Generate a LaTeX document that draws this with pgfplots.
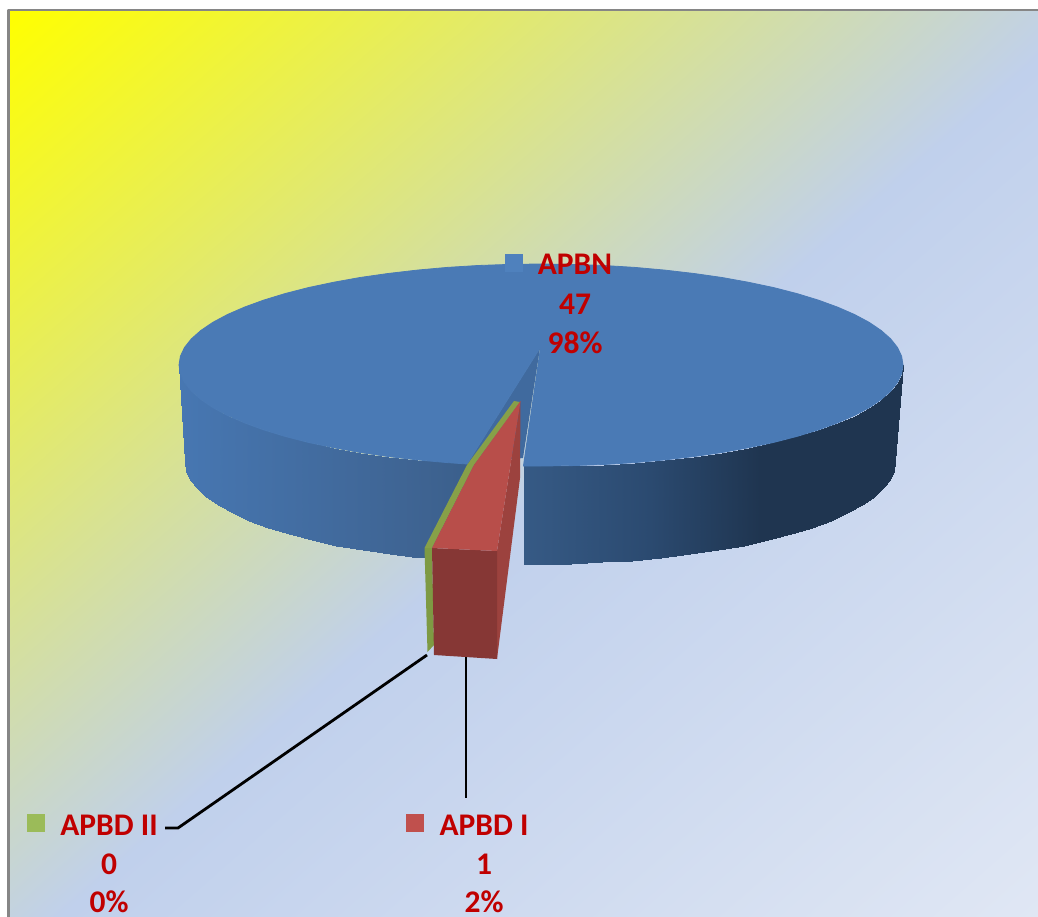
\documentclass[border=0pt]{standalone}
\usepackage{pgfplots}
\pgfplotsset{compat=1.18}
\usepackage{fontspec}
\setmainfont{Carlito}
\definecolor{lab}{RGB}{192,0,0}
\definecolor{topblue}{RGB}{74,122,181}
\definecolor{wedge}{RGB}{64,106,158}
\definecolor{mblue}{RGB}{79,129,189}
\definecolor{mred}{RGB}{192,80,77}
\definecolor{mgreen}{RGB}{155,187,89}
\definecolor{redtop}{RGB}{184,78,74}
\definecolor{redside}{RGB}{156,66,62}
\definecolor{redfront}{RGB}{134,55,53}
\definecolor{greentop}{RGB}{135,160,72}
\definecolor{greenfront}{RGB}{126,154,67}
\definecolor{frame}{RGB}{134,134,134}
\pgfplotsset{
  colormap={bgmap}{rgb255(0)=(255,255,0); rgb255(525)=(192,208,236); rgb255(1000)=(224,231,244)},
  colormap={wallmap}{rgb255(179)=(71,119,178); rgb255(425)=(62,99,145); rgb255(524)=(54,90,133); rgb255(650)=(43,74,112); rgb255(760)=(31,53,80); rgb255(903)=(31,53,80)}
}
\tikzset{lb/.style={font=\fontsize{31.5}{32}\selectfont\bfseries, text=lab, anchor=base, inner sep=0pt}}
\begin{document}
\begin{tikzpicture}
\begin{axis}[
  scale only axis, width=1038pt, height=917pt,
  xmin=0, xmax=1038, ymin=0, ymax=917, y dir=reverse,
  hide axis, no markers, point meta min=0, point meta max=1,
  every axis plot/.append style={line join=round},
]
\path (axis cs:0,0) rectangle (axis cs:1038,917);
% background gradient
\addplot[patch, shader=interp, colormap name=bgmap, point meta=explicit] coordinates {
 (10,11) [0] (1038,11) [0.5] (1038,60) [0.525]
 (10,11) [0] (1038,60) [0.525] (60,917) [0.525]
 (10,11) [0] (60,917) [0.525] (10,917) [0.5]
 (1038,60) [0.525] (1038,917) [1] (60,917) [0.525]
};
% frame
\addplot[draw=frame, line width=2.6pt, line cap=butt] coordinates {(8.7,917) (8.7,10) (1038,10)};
% side wall, left part
\addplot[patch, patch type=rectangle, shader=interp, colormap name=wallmap, point meta={(x-179)/724}] coordinates {
 (179,365) (180.4,373.8) (186.4,470.9) (185,462)
 (180.4,373.8) (184.5,382.5) (190.4,479.7) (186.4,470.9)
 (184.5,382.5) (191.3,391.1) (197.1,488.4) (190.4,479.7)
 (191.3,391.1) (200.8,399.5) (206.4,496.9) (197.1,488.4)
 (200.8,399.5) (212.9,407.7) (218.3,505.1) (206.4,496.9)
 (212.9,407.7) (227.5,415.5) (232.6,513) (218.3,505.1)
 (227.5,415.5) (244.5,422.9) (249.2,520.5) (232.6,513)
 (244.5,422.9) (263.7,429.9) (268.1,527.6) (249.2,520.5)
 (263.7,429.9) (285,436.4) (289,534.1) (268.1,527.6)
 (285,436.4) (308.3,442.4) (311.8,540.1) (289,534.1)
 (308.3,442.4) (333.4,447.7) (336.4,545.6) (311.8,540.1)
 (333.4,447.7) (360,452.5) (362.5,550.3) (336.4,545.6)
 (360,452.5) (388,456.5) (390,554.4) (362.5,550.3)
 (388,456.5) (417.2,459.9) (418.6,557.9) (390,554.4)
 (417.2,459.9) (490,462) (425,557) (418.6,557.9)
};
% side wall, right part
\addplot[patch, patch type=rectangle, shader=interp, colormap name=wallmap, point meta={(x-179)/724}] coordinates {
 (524,466) (572.6,465.6) (571,563.6) (524,564)
 (572.6,465.6) (603.9,464.5) (601.6,562.4) (571,563.6)
 (603.9,464.5) (634.7,462.6) (631.9,560.5) (601.6,562.4)
 (634.7,462.6) (664.8,459.9) (661.4,557.9) (631.9,560.5)
 (664.8,459.9) (694,456.5) (690,554.4) (661.4,557.9)
 (694,456.5) (722,452.5) (717.5,550.3) (690,554.4)
 (722,452.5) (748.6,447.7) (743.6,545.6) (717.5,550.3)
 (748.6,447.7) (773.7,442.4) (768.2,540.1) (743.6,545.6)
 (773.7,442.4) (797,436.4) (791,534.1) (768.2,540.1)
 (797,436.4) (818.3,429.9) (811.9,527.6) (791,534.1)
 (818.3,429.9) (837.5,422.9) (830.8,520.5) (811.9,527.6)
 (837.5,422.9) (854.5,415.5) (847.4,513) (830.8,520.5)
 (854.5,415.5) (869.1,407.7) (861.7,505.1) (847.4,513)
 (869.1,407.7) (881.2,399.5) (873.6,496.9) (861.7,505.1)
 (881.2,399.5) (890.7,391.1) (882.9,488.4) (873.6,496.9)
 (890.7,391.1) (897.5,382.5) (889.6,479.7) (882.9,488.4)
 (897.5,382.5) (901.6,373.8) (893.6,470.9) (889.6,479.7)
 (901.6,373.8) (903,365) (895,462) (893.6,470.9)
};
% inner wedge wall
\addplot[fill=wedge, draw=none] coordinates {(540,348) (523,458) (467,464)};
% top face with the notch
\addplot[fill=topblue, draw=topblue, line width=0.8pt] coordinates {
 (523,466) (541,466) (572.6,465.6) (603.9,464.5) (634.7,462.6) (664.8,459.9) (694,456.5)
 (722,452.5) (748.6,447.7) (773.7,442.4) (797,436.4) (818.3,429.9) (837.5,422.9)
 (854.5,415.5) (869.1,407.7) (881.2,399.5) (890.7,391.1) (897.5,382.5) (901.6,373.8)
 (903,365) (901.6,356.2) (897.5,347.5) (890.7,338.9) (881.2,330.5) (869.1,322.3)
 (854.5,314.5) (837.5,307.1) (818.3,300.1) (797,293.6) (773.7,287.6) (748.6,282.3)
 (722,277.5) (694,273.5) (664.8,270.1) (634.7,267.4) (603.9,265.5) (572.6,264.4)
 (541,264) (509.4,264.4) (478.1,265.5) (447.3,267.4) (417.2,270.1) (388,273.5)
 (360,277.5) (333.4,282.3) (308.3,287.6) (285,293.6) (263.7,300.1) (244.5,307.1)
 (227.5,314.5) (212.9,322.3) (200.8,330.5) (191.3,338.9) (184.5,347.5) (180.4,356.2)
 (179,365) (180.4,373.8) (184.5,382.5) (191.3,391.1) (200.8,399.5) (212.9,407.7)
 (227.5,415.5) (244.5,422.9) (263.7,429.9) (285,436.4) (308.3,442.4) (333.4,447.7)
 (360,452.5) (388,456.5) (417.2,459.9) (447.3,462.6) (467,464)
 (540,348)
};
% green slice
\addplot[fill=greenfront, draw=none] coordinates {(424.5,548) (432,548) (434,645) (427.5,652)};
\addplot[fill=greentop, draw=none] coordinates {(424.5,548) (467,465) (514,401) (520,402) (474,465) (432,548)};
% red slice
\addplot[fill=redside, draw=none] coordinates {(520.5,401) (497,551) (497,659) (520,478)};
\addplot[fill=redfront, draw=none] coordinates {(432,548) (497,551) (497,659) (434,655)};
\addplot[fill=redtop, draw=none] coordinates {(520.5,401) (474,465) (432,548) (497,551)};
% leader lines
\addplot[black, line width=2.8pt] coordinates {(165,828) (178,828) (427,655)};
\addplot[black, line width=2.8pt] coordinates {(466,657) (466,798)};
% legend keys
\addplot[fill=mblue, draw=none] coordinates {(505,254) (523,254) (523,272) (505,272)};
\addplot[fill=mred, draw=none] coordinates {(406,814) (424,814) (424,832) (406,832)};
\addplot[fill=mgreen, draw=none] coordinates {(27,814) (45,814) (45,832) (27,832)};
% labels
\node[lb] at (axis cs:575,275) {APBN};
\node[lb] at (axis cs:575,314) {47};
\node[lb] at (axis cs:575,353) {98\%};
\node[lb] at (axis cs:109,835) {APBD II};
\node[lb] at (axis cs:109,874) {0};
\node[lb] at (axis cs:109,912) {0\%};
\node[lb] at (axis cs:484,835) {APBD I};
\node[lb] at (axis cs:484,874) {1};
\node[lb] at (axis cs:484,912) {2\%};
\end{axis}
\end{tikzpicture}
\end{document}
